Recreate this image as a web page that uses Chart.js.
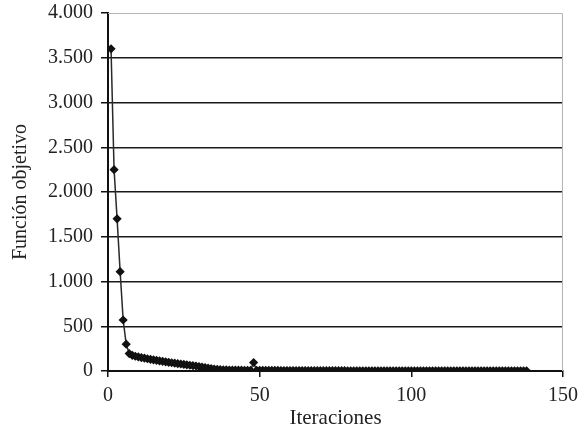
<!DOCTYPE html>
<html>
<head>
<meta charset="utf-8">
<script src="https://cdn.jsdelivr.net/npm/chart.js@4"></script>
<style>
  html, body { margin: 0; padding: 0; background: #fff; }
  #wrap { width: 582px; height: 431px; }
</style>
</head>
<body>
<div id="wrap"><canvas id="myChart" width="582" height="431"></canvas></div>
<script>
// objective function value per iteration (iterations start at 1)
var objValues = [
  3600, 2250, 1700, 1110, 570, 300, 195, 175, 165, 157,
  150, 143, 137, 131, 125, 119, 113, 108, 102, 97,
  92, 87, 82, 78, 73, 69, 64, 60, 56, 50,
  44, 38, 32, 27, 22, 18, 15, 13, 12, 11,
  10, 10, 9, 9, 8, 8, 8, 95, 7, 7,
  7, 6, 6, 6, 6, 6, 5, 5, 5, 5,
  5, 5, 5, 5, 4, 4, 4, 4, 4, 4,
  4, 4, 4, 4, 4, 4, 4, 4, 3, 3,
  3, 3, 3, 3, 3, 3, 3, 3, 3, 3,
  3, 3, 3, 3, 3, 3, 3, 3, 3, 3,
  3, 3, 3, 3, 3, 2, 2, 2, 2, 2,
  2, 2, 2, 2, 2, 2, 2, 2, 2, 2,
  2, 2, 2, 2, 2, 2, 2, 2, 2, 2,
  2, 2, 2, 2, 2, 2, 2, 2
];
var xTicks = [0, 50, 100, 150];
var yTicks = [0, 500, 1000, 1500, 2000, 2500, 3000, 3500, 4000];

var serif = "'Liberation Serif', 'Times New Roman', serif";

var points = objValues.map(function(v, i){
  return {x: i + 1, y: v};
});

function miles(v){
  return String(v).replace(/\B(?=(\d{3})+(?!\d))/g, '.');
}

// light frame on the top/right side of the plot
var frame = {
  id: 'frame',
  beforeDatasetsDraw: function(chart){
    var a = chart.chartArea, ctx = chart.ctx;
    ctx.save();
    ctx.strokeStyle = '#b4b4b4';
    ctx.lineWidth = 1;
    ctx.beginPath();
    ctx.moveTo(a.left, a.top + 0.5);
    ctx.lineTo(a.right - 0.5, a.top + 0.5);
    ctx.lineTo(a.right - 0.5, a.bottom);
    ctx.stroke();
    ctx.restore();
  }
};

var ctx = document.getElementById('myChart');
var myChart = new Chart(ctx, {
  type: 'line',
  data: {
    datasets: [{
      data: points,
      borderColor: '#2a2a2a',
      borderWidth: 1.5,
      tension: 0,
      pointStyle: 'rectRot',
      pointRadius: 4.6,
      pointBackgroundColor: '#111',
      pointBorderColor: '#111',
      pointBorderWidth: 0
    }]
  },
  options: {
    responsive: false,
    animation: false,
    layout: { padding: { top: 13, right: 19, bottom: 0, left: 0 } },
    plugins: { legend: { display: false }, tooltip: { enabled: false } },
    scales: {
      x: {
        type: 'linear',
        min: xTicks[0],
        max: xTicks[xTicks.length - 1],
        afterBuildTicks: function(s){ s.ticks = xTicks.map(function(v){ return {value: v}; }); },
        afterFit: function(s){ s.height = 60; s.paddingLeft = 0; s.paddingRight = 0; },
        grid: { drawOnChartArea: false, drawTicks: true, tickLength: 6, color: '#111', lineWidth: 1.5 },
        border: { color: '#111', width: 2 },
        ticks: { color: '#222', font: { family: serif, size: 20 }, padding: 7, maxRotation: 0 },
        title: { display: true, text: 'Iteraciones', color: '#222', font: { family: serif, size: 21 }, padding: { top: 0, bottom: 0 } }
      },
      y: {
        min: yTicks[0],
        max: yTicks[yTicks.length - 1],
        afterBuildTicks: function(s){ s.ticks = yTicks.map(function(v){ return {value: v}; }); },
        afterFit: function(s){ s.width = 108; s.paddingTop = 0; s.paddingBottom = 0; },
        grid: {
          drawTicks: true,
          tickLength: 7,
          tickColor: '#111',
          lineWidth: 1.5,
          color: function(c){ return c.tick && c.tick.value === 4000 ? 'rgba(0,0,0,0)' : '#1a1a1a'; }
        },
        border: { color: '#111', width: 2 },
        ticks: { color: '#222', font: { family: serif, size: 20 }, padding: 8, callback: function(v){ return miles(v); } },
        title: { display: true, text: 'Función objetivo', color: '#222', font: { family: serif, size: 20 }, padding: { top: 9, bottom: 0 } }
      }
    }
  },
  plugins: [frame]
});
</script>
</body>
</html>
